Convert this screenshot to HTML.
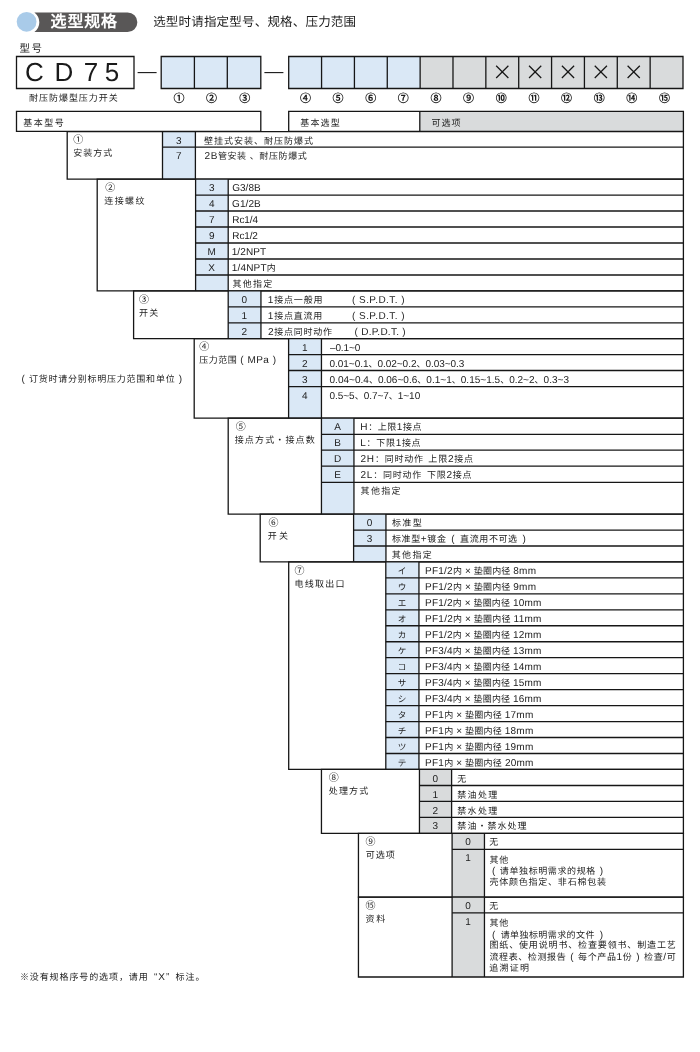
<!DOCTYPE html>
<html lang="zh-CN">
<head>
<meta charset="utf-8">
<title>选型规格 CD75</title>
<style>
html,body{margin:0;padding:0;background:#fff}
body{position:relative;width:700px;height:1052px;overflow:hidden;font-family:"Liberation Sans",sans-serif;color:#1c1c1c;text-rendering:geometricPrecision}
svg{position:absolute;left:0;top:0}
.tx{position:absolute;left:0;top:0;width:700px;height:1052px;will-change:transform}
svg path{stroke:#161616;fill:none}
.t{position:absolute;white-space:nowrap;font-size:9px;line-height:16px;letter-spacing:.7px}
.l{font-size:10px;line-height:0}
.c{text-align:center;letter-spacing:0}
.n{font-size:10px;letter-spacing:0}
.n2{font-size:11px;line-height:14px;letter-spacing:0;font-weight:bold}
.title{position:absolute;white-space:nowrap;font-size:16px;line-height:20px;font-weight:bold;color:#fff;letter-spacing:.6px}
.sub{position:absolute;white-space:nowrap;font-size:12.5px;line-height:16px;letter-spacing:-.4px}
.cd{position:absolute;white-space:nowrap;font-size:26px;line-height:32px;color:#1a1a1a}
</style>
</head>
<body>
<svg width="700" height="1052" viewBox="0 0 700 1052">
<path d="M34.4 12.5H127.6a9.75 9.75 0 0 1 0 19.5H34.4A12.1 12.1 0 0 0 34.4 12.5Z" style="fill:#595757;stroke:none"/>
<circle cx="26.6" cy="21.8" r="9.9" fill="#a9cbe9"/>
<g transform="translate(0.2 0.4)">
<path d="M16.30 56.10H133.80V88.10H16.30Z" stroke-width="1.3"/>
<path d="M137.40 72.20H156.40" stroke-width="1.1"/>
<path d="M264.20 72.20H283.20" stroke-width="1.1"/>
<rect x="161.00" y="56.10" width="99.60" height="32.00" fill="#dae8f6"/>
<path d="M161.00 56.10H260.60V88.10H161.00Z" stroke-width="1.3"/>
<path d="M194.20 56.10V88.10" stroke-width="1.3"/>
<path d="M227.10 56.10V88.10" stroke-width="1.3"/>
<rect x="288.50" y="56.10" width="131.43" height="32.00" fill="#dae8f6"/>
<rect x="419.93" y="56.10" width="262.87" height="32.00" fill="#d9dbdc"/>
<path d="M288.50 56.10H682.80V88.10H288.50Z" stroke-width="1.3"/>
<path d="M321.36 56.10V88.10" stroke-width="1.3"/>
<path d="M354.22 56.10V88.10" stroke-width="1.3"/>
<path d="M387.07 56.10V88.10" stroke-width="1.3"/>
<path d="M419.93 56.10V88.10" stroke-width="1.3"/>
<path d="M452.79 56.10V88.10" stroke-width="1.3"/>
<path d="M485.65 56.10V88.10" stroke-width="1.3"/>
<path d="M518.51 56.10V88.10" stroke-width="1.3"/>
<path d="M551.37 56.10V88.10" stroke-width="1.3"/>
<path d="M584.22 56.10V88.10" stroke-width="1.3"/>
<path d="M617.08 56.10V88.10" stroke-width="1.3"/>
<path d="M649.94 56.10V88.10" stroke-width="1.3"/>
<path d="M495.98 65.40L508.18 77.60M508.18 65.40L495.98 77.60" stroke-width="1.25" stroke="#1a1a1a"/>
<path d="M528.84 65.40L541.04 77.60M541.04 65.40L528.84 77.60" stroke-width="1.25" stroke="#1a1a1a"/>
<path d="M561.70 65.40L573.90 77.60M573.90 65.40L561.70 77.60" stroke-width="1.25" stroke="#1a1a1a"/>
<path d="M594.55 65.40L606.75 77.60M606.75 65.40L594.55 77.60" stroke-width="1.25" stroke="#1a1a1a"/>
<path d="M627.41 65.40L639.61 77.60M639.61 65.40L627.41 77.60" stroke-width="1.25" stroke="#1a1a1a"/>
<path d="M16.30 111.00H260.60V131.00H16.30Z" stroke-width="1.3"/>
<rect x="419.60" y="111.00" width="263.60" height="20.00" fill="#d9dbdc"/>
<path d="M288.50 111.00H683.20V131.00H288.50Z" stroke-width="1.3"/>
<path d="M419.60 111.00V131.00" stroke-width="1.3"/>
<rect x="162.30" y="131.20" width="32.90" height="47.50" fill="#dae8f6"/>
<path d="M67.00 131.20H683.20V178.70H67.00Z" stroke-width="1.3"/>
<path d="M162.30 131.20V178.70" stroke-width="1.3"/>
<path d="M195.20 131.20V178.70" stroke-width="1.3"/>
<path d="M162.30 146.80H683.20" stroke-width="1.3"/>
<rect x="195.40" y="178.70" width="32.60" height="111.80" fill="#dae8f6"/>
<path d="M97.00 178.70H683.20V290.50H97.00Z" stroke-width="1.3"/>
<path d="M195.40 178.70V290.50" stroke-width="1.3"/>
<path d="M228.00 178.70V290.50" stroke-width="1.3"/>
<path d="M195.40 194.70H683.20" stroke-width="1.3"/>
<path d="M195.40 210.60H683.20" stroke-width="1.3"/>
<path d="M195.40 226.60H683.20" stroke-width="1.3"/>
<path d="M195.40 242.60H683.20" stroke-width="1.3"/>
<path d="M195.40 258.60H683.20" stroke-width="1.3"/>
<path d="M195.40 274.60H683.20" stroke-width="1.3"/>
<rect x="228.00" y="290.50" width="32.75" height="47.75" fill="#dae8f6"/>
<path d="M133.40 290.50H683.20V338.25H133.40Z" stroke-width="1.3"/>
<path d="M228.00 290.50V338.25" stroke-width="1.3"/>
<path d="M260.75 290.50V338.25" stroke-width="1.3"/>
<path d="M228.00 306.40H683.20" stroke-width="1.3"/>
<path d="M228.00 322.40H683.20" stroke-width="1.3"/>
<rect x="288.40" y="338.25" width="32.85" height="79.55" fill="#dae8f6"/>
<path d="M194.00 338.25H683.20V417.80H194.00Z" stroke-width="1.3"/>
<path d="M288.40 338.25V417.80" stroke-width="1.3"/>
<path d="M321.25 338.25V417.80" stroke-width="1.3"/>
<path d="M288.40 354.25H683.20" stroke-width="1.3"/>
<path d="M288.40 370.10H683.20" stroke-width="1.3"/>
<path d="M288.40 386.20H683.20" stroke-width="1.3"/>
<rect x="321.25" y="417.80" width="32.50" height="95.90" fill="#dae8f6"/>
<path d="M228.00 417.80H683.20V513.70H228.00Z" stroke-width="1.3"/>
<path d="M321.25 417.80V513.70" stroke-width="1.3"/>
<path d="M353.75 417.80V513.70" stroke-width="1.3"/>
<path d="M321.25 433.90H683.20" stroke-width="1.3"/>
<path d="M321.25 449.80H683.20" stroke-width="1.3"/>
<path d="M321.25 465.80H683.20" stroke-width="1.3"/>
<path d="M321.25 481.90H683.20" stroke-width="1.3"/>
<rect x="353.40" y="513.70" width="32.35" height="47.80" fill="#dae8f6"/>
<path d="M260.00 513.70H683.20V561.50H260.00Z" stroke-width="1.3"/>
<path d="M353.40 513.70V561.50" stroke-width="1.3"/>
<path d="M385.75 513.70V561.50" stroke-width="1.3"/>
<path d="M353.40 529.70H683.20" stroke-width="1.3"/>
<path d="M353.40 545.60H683.20" stroke-width="1.3"/>
<rect x="385.60" y="561.50" width="33.15" height="207.55" fill="#dae8f6"/>
<path d="M288.50 561.50H683.20V769.05H288.50Z" stroke-width="1.3"/>
<path d="M385.60 561.50V769.05" stroke-width="1.3"/>
<path d="M418.75 561.50V769.05" stroke-width="1.3"/>
<path d="M385.60 577.47H683.20" stroke-width="1.3"/>
<path d="M385.60 593.43H683.20" stroke-width="1.3"/>
<path d="M385.60 609.40H683.20" stroke-width="1.3"/>
<path d="M385.60 625.36H683.20" stroke-width="1.3"/>
<path d="M385.60 641.33H683.20" stroke-width="1.3"/>
<path d="M385.60 657.29H683.20" stroke-width="1.3"/>
<path d="M385.60 673.26H683.20" stroke-width="1.3"/>
<path d="M385.60 689.22H683.20" stroke-width="1.3"/>
<path d="M385.60 705.19H683.20" stroke-width="1.3"/>
<path d="M385.60 721.15H683.20" stroke-width="1.3"/>
<path d="M385.60 737.12H683.20" stroke-width="1.3"/>
<path d="M385.60 753.08H683.20" stroke-width="1.3"/>
<rect x="419.25" y="769.05" width="32.15" height="63.85" fill="#d9dbdc"/>
<path d="M321.25 769.05H683.20V832.90H321.25Z" stroke-width="1.3"/>
<path d="M419.25 769.05V832.90" stroke-width="1.3"/>
<path d="M451.40 769.05V832.90" stroke-width="1.3"/>
<path d="M419.25 785.10H683.20" stroke-width="1.3"/>
<path d="M419.25 801.05H683.20" stroke-width="1.3"/>
<path d="M419.25 817.00H683.20" stroke-width="1.3"/>
<rect x="451.90" y="832.90" width="32.35" height="63.80" fill="#d9dbdc"/>
<path d="M358.25 832.90H683.20V896.70H358.25Z" stroke-width="1.3"/>
<path d="M451.90 832.90V896.70" stroke-width="1.3"/>
<path d="M484.25 832.90V896.70" stroke-width="1.3"/>
<path d="M451.90 848.95H683.20" stroke-width="1.3"/>
<rect x="451.90" y="896.70" width="32.35" height="79.90" fill="#d9dbdc"/>
<path d="M358.25 896.70H683.20V976.60H358.25Z" stroke-width="1.3"/>
<path d="M451.90 896.70V976.60" stroke-width="1.3"/>
<path d="M484.25 896.70V976.60" stroke-width="1.3"/>
<path d="M451.90 912.50H683.20" stroke-width="1.3"/>
</g>
</svg>
<div class="tx">
<div id="i0" class="t n" style="left:73.33px;top:133.20px;">①</div>
<div id="i1" class="t" style="left:73.27px;top:145.35px;letter-spacing:1.02px;">安装方式</div>
<div id="i2" class="t c" style="left:162.30px;top:132.65px;width:32.90px;"><span class="l">3</span></div>
<div id="i3" class="t" style="left:204.12px;top:132.65px;letter-spacing:0.98px;">壁挂式安装、耐压防爆式</div>
<div id="i4" class="t c" style="left:162.30px;top:148.25px;width:32.90px;"><span class="l">7</span></div>
<div id="i5" class="t" style="left:204.50px;top:148.25px;letter-spacing:0.59px;"><span class="l">2B</span>管安装 、耐压防爆式</div>
<div id="i6" class="t n" style="left:105.36px;top:180.70px;">②</div>
<div id="i7" class="t" style="left:104.26px;top:192.85px;letter-spacing:1.40px;">连接螺纹</div>
<div id="i8" class="t c" style="left:195.40px;top:180.15px;width:32.60px;"><span class="l">3</span></div>
<div id="i9" class="t" style="left:232.17px;top:180.15px;letter-spacing:0.05px;"><span class="l">G3/8B</span></div>
<div id="i10" class="t c" style="left:195.40px;top:196.15px;width:32.60px;"><span class="l">4</span></div>
<div id="i11" class="t" style="left:232.12px;top:196.15px;letter-spacing:0.06px;"><span class="l">G1/2B</span></div>
<div id="i12" class="t c" style="left:195.40px;top:212.05px;width:32.60px;"><span class="l">7</span></div>
<div id="i13" class="t" style="left:232.35px;top:212.05px;letter-spacing:-0.12px;"><span class="l">Rc1/4</span></div>
<div id="i14" class="t c" style="left:195.40px;top:228.05px;width:32.60px;"><span class="l">9</span></div>
<div id="i15" class="t" style="left:232.32px;top:228.05px;letter-spacing:-0.13px;"><span class="l">Rc1/2</span></div>
<div id="i16" class="t c" style="left:195.40px;top:244.05px;width:32.60px;"><span class="l">M</span></div>
<div id="i17" class="t" style="left:231.69px;top:244.05px;letter-spacing:0.12px;"><span class="l">1/2NPT</span></div>
<div id="i18" class="t c" style="left:195.40px;top:260.05px;width:32.60px;"><span class="l">X</span></div>
<div id="i19" class="t" style="left:231.71px;top:260.05px;letter-spacing:0.19px;"><span class="l">1/4NPT</span>内</div>
<div id="i20" class="t" style="left:232.57px;top:276.05px;letter-spacing:1.19px;">其他指定</div>
<div id="i21" class="t n" style="left:138.93px;top:292.50px;">③</div>
<div id="i22" class="t" style="left:139.03px;top:304.65px;letter-spacing:1.17px;">开关</div>
<div id="i23" class="t c" style="left:228.00px;top:291.95px;width:32.75px;"><span class="l">0</span></div>
<div id="i24" class="t" style="left:267.79px;top:291.95px;letter-spacing:0.82px;"><span class="l">1</span>接点一般用</div>
<div id="i25" class="t c" style="left:228.00px;top:307.85px;width:32.75px;"><span class="l">1</span></div>
<div id="i26" class="t" style="left:267.83px;top:307.85px;letter-spacing:0.77px;"><span class="l">1</span>接点直流用</div>
<div id="i27" class="t c" style="left:228.00px;top:323.85px;width:32.75px;"><span class="l">2</span></div>
<div id="i28" class="t" style="left:268.00px;top:323.85px;letter-spacing:0.74px;"><span class="l">2</span>接点同时动作</div>
<div id="i29" class="t n" style="left:199.28px;top:340.25px;">④</div>
<div id="i30" class="t" style="left:199.37px;top:352.40px;letter-spacing:0.44px;word-spacing:0.19px;">压力范围 <span class="l">( MPa )</span></div>
<div id="i31" class="t c" style="left:288.40px;top:339.70px;width:32.85px;"><span class="l">1</span></div>
<div id="i32" class="t" style="left:329.93px;top:339.70px;letter-spacing:-0.10px;"><span class="l">–0.1~0</span></div>
<div id="i33" class="t c" style="left:288.40px;top:355.70px;width:32.85px;"><span class="l">2</span></div>
<div id="i34" class="t" style="left:329.50px;top:355.70px;letter-spacing:-0.03px;"><span class="l">0.01~0.1</span>、<span class="l">0.02~0.2</span>、<span class="l">0.03~0.3</span></div>
<div id="i35" class="t c" style="left:288.40px;top:371.55px;width:32.85px;"><span class="l">3</span></div>
<div id="i36" class="t" style="left:329.50px;top:371.55px;letter-spacing:0.02px;"><span class="l">0.04~0.4</span>、<span class="l">0.06~0.6</span>、<span class="l">0.1~1</span>、<span class="l">0.15~1.5</span>、<span class="l">0.2~2</span>、<span class="l">0.3~3</span></div>
<div id="i37" class="t c" style="left:288.40px;top:387.65px;width:32.85px;"><span class="l">4</span></div>
<div id="i38" class="t" style="left:329.50px;top:387.65px;letter-spacing:-0.03px;"><span class="l">0.5~5</span>、<span class="l">0.7~7</span>、<span class="l">1~10</span></div>
<div id="i39" class="t n" style="left:235.87px;top:419.80px;">⑤</div>
<div id="i40" class="t" style="left:234.73px;top:431.95px;letter-spacing:1.14px;">接点方式・接点数</div>
<div id="i41" class="t c" style="left:321.25px;top:419.25px;width:32.50px;"><span class="l">A</span></div>
<div id="i42" class="t" style="left:360.35px;top:419.25px;letter-spacing:0.56px;"><span class="l">H</span>：上限<span class="l">1</span>接点</div>
<div id="i43" class="t c" style="left:321.25px;top:435.35px;width:32.50px;"><span class="l">B</span></div>
<div id="i44" class="t" style="left:360.35px;top:435.35px;letter-spacing:0.68px;"><span class="l">L</span>：下限<span class="l">1</span>接点</div>
<div id="i45" class="t c" style="left:321.25px;top:451.25px;width:32.50px;"><span class="l">D</span></div>
<div id="i46" class="t" style="left:360.50px;top:451.25px;letter-spacing:0.79px;word-spacing:1.22px;"><span class="l">2H</span>：同时动作 上限<span class="l">2</span>接点</div>
<div id="i47" class="t c" style="left:321.25px;top:467.25px;width:32.50px;"><span class="l">E</span></div>
<div id="i48" class="t" style="left:360.50px;top:467.25px;letter-spacing:0.77px;word-spacing:1.59px;"><span class="l">2L</span>：同时动作 下限<span class="l">2</span>接点</div>
<div id="i49" class="t" style="left:360.58px;top:483.35px;letter-spacing:1.33px;">其他指定</div>
<div id="i50" class="t n" style="left:268.38px;top:515.70px;">⑥</div>
<div id="i51" class="t" style="left:267.86px;top:527.85px;letter-spacing:2.09px;">开关</div>
<div id="i52" class="t c" style="left:353.40px;top:515.15px;width:32.35px;"><span class="l">0</span></div>
<div id="i53" class="t" style="left:392.05px;top:515.15px;letter-spacing:1.31px;">标准型</div>
<div id="i54" class="t c" style="left:353.40px;top:531.15px;width:32.35px;"><span class="l">3</span></div>
<div id="i55" class="t" style="left:392.02px;top:531.15px;letter-spacing:0.60px;word-spacing:1.73px;">标准型<span class="l">+</span>镀金 <span class="l">(</span> 直流用不可选 <span class="l">)</span></div>
<div id="i56" class="t" style="left:391.80px;top:547.05px;letter-spacing:1.32px;">其他指定</div>
<div id="i57" class="t n" style="left:294.40px;top:563.50px;">⑦</div>
<div id="i58" class="t" style="left:294.60px;top:575.65px;letter-spacing:1.24px;">电线取出口</div>
<div id="i59" class="t c" style="left:385.60px;top:562.95px;width:33.15px;font-size:8.6px;">イ</div>
<div id="i60" class="t" style="left:425.11px;top:562.95px;letter-spacing:0.22px;word-spacing:0.03px;"><span class="l">PF1/2</span>内 <span class="l">×</span> 垫圈内径 <span class="l">8mm</span></div>
<div id="i61" class="t c" style="left:385.60px;top:578.92px;width:33.15px;font-size:8.6px;">ウ</div>
<div id="i62" class="t" style="left:425.11px;top:578.92px;letter-spacing:0.22px;word-spacing:0.03px;"><span class="l">PF1/2</span>内 <span class="l">×</span> 垫圈内径 <span class="l">9mm</span></div>
<div id="i63" class="t c" style="left:385.60px;top:594.88px;width:33.15px;font-size:8.6px;">エ</div>
<div id="i64" class="t" style="left:425.11px;top:594.88px;letter-spacing:0.20px;word-spacing:0.00px;"><span class="l">PF1/2</span>内 <span class="l">×</span> 垫圈内径 <span class="l">10mm</span></div>
<div id="i65" class="t c" style="left:385.60px;top:610.85px;width:33.15px;font-size:8.6px;">オ</div>
<div id="i66" class="t" style="left:425.08px;top:610.85px;letter-spacing:0.24px;word-spacing:0.03px;"><span class="l">PF1/2</span>内 <span class="l">×</span> 垫圈内径 <span class="l">11mm</span></div>
<div id="i67" class="t c" style="left:385.60px;top:626.81px;width:33.15px;font-size:8.6px;">カ</div>
<div id="i68" class="t" style="left:425.11px;top:626.81px;letter-spacing:0.20px;word-spacing:0.00px;"><span class="l">PF1/2</span>内 <span class="l">×</span> 垫圈内径 <span class="l">12mm</span></div>
<div id="i69" class="t c" style="left:385.60px;top:642.78px;width:33.15px;font-size:8.6px;">ケ</div>
<div id="i70" class="t" style="left:425.08px;top:642.78px;letter-spacing:0.20px;word-spacing:0.04px;"><span class="l">PF3/4</span>内 <span class="l">×</span> 垫圈内径 <span class="l">13mm</span></div>
<div id="i71" class="t c" style="left:385.60px;top:658.74px;width:33.15px;font-size:8.6px;">コ</div>
<div id="i72" class="t" style="left:425.08px;top:658.74px;letter-spacing:0.20px;word-spacing:0.04px;"><span class="l">PF3/4</span>内 <span class="l">×</span> 垫圈内径 <span class="l">14mm</span></div>
<div id="i73" class="t c" style="left:385.60px;top:674.71px;width:33.15px;font-size:8.6px;">サ</div>
<div id="i74" class="t" style="left:425.08px;top:674.71px;letter-spacing:0.20px;word-spacing:0.04px;"><span class="l">PF3/4</span>内 <span class="l">×</span> 垫圈内径 <span class="l">15mm</span></div>
<div id="i75" class="t c" style="left:385.60px;top:690.67px;width:33.15px;font-size:8.6px;">シ</div>
<div id="i76" class="t" style="left:425.08px;top:690.67px;letter-spacing:0.20px;word-spacing:0.04px;"><span class="l">PF3/4</span>内 <span class="l">×</span> 垫圈内径 <span class="l">16mm</span></div>
<div id="i77" class="t c" style="left:385.60px;top:706.64px;width:33.15px;font-size:8.6px;">タ</div>
<div id="i78" class="t" style="left:425.08px;top:706.64px;letter-spacing:0.24px;word-spacing:0.03px;"><span class="l">PF1</span>内 <span class="l">×</span> 垫圈内径 <span class="l">17mm</span></div>
<div id="i79" class="t c" style="left:385.60px;top:722.60px;width:33.15px;font-size:8.6px;">チ</div>
<div id="i80" class="t" style="left:425.08px;top:722.60px;letter-spacing:0.24px;word-spacing:0.03px;"><span class="l">PF1</span>内 <span class="l">×</span> 垫圈内径 <span class="l">18mm</span></div>
<div id="i81" class="t c" style="left:385.60px;top:738.57px;width:33.15px;font-size:8.6px;">ツ</div>
<div id="i82" class="t" style="left:425.08px;top:738.57px;letter-spacing:0.24px;word-spacing:0.03px;"><span class="l">PF1</span>内 <span class="l">×</span> 垫圈内径 <span class="l">19mm</span></div>
<div id="i83" class="t c" style="left:385.60px;top:754.53px;width:33.15px;font-size:8.6px;">テ</div>
<div id="i84" class="t" style="left:425.08px;top:754.53px;letter-spacing:0.24px;word-spacing:0.08px;"><span class="l">PF1</span>内 <span class="l">×</span> 垫圈内径 <span class="l">20mm</span></div>
<div id="i85" class="t n" style="left:328.70px;top:771.05px;">⑧</div>
<div id="i86" class="t" style="left:328.71px;top:783.20px;letter-spacing:1.19px;">处理方式</div>
<div id="i87" class="t c" style="left:419.25px;top:770.50px;width:32.15px;"><span class="l">0</span></div>
<div id="i88" class="t" style="left:457.37px;top:770.50px;">无</div>
<div id="i89" class="t c" style="left:419.25px;top:786.55px;width:32.15px;"><span class="l">1</span></div>
<div id="i90" class="t" style="left:457.35px;top:786.55px;letter-spacing:1.27px;">禁油处理</div>
<div id="i91" class="t c" style="left:419.25px;top:802.50px;width:32.15px;"><span class="l">2</span></div>
<div id="i92" class="t" style="left:457.35px;top:802.50px;letter-spacing:1.27px;">禁水处理</div>
<div id="i93" class="t c" style="left:419.25px;top:818.45px;width:32.15px;"><span class="l">3</span></div>
<div id="i94" class="t" style="left:457.35px;top:818.45px;letter-spacing:1.04px;">禁油・禁水处理</div>
<div id="i95" class="t n" style="left:365.54px;top:834.90px;">⑨</div>
<div id="i96" class="t" style="left:365.87px;top:847.05px;letter-spacing:0.96px;">可选项</div>
<div id="i97" class="t c" style="left:451.90px;top:834.35px;width:32.35px;"><span class="l">0</span></div>
<div id="i98" class="t" style="left:489.30px;top:834.35px;">无</div>
<div id="i99" class="t c" style="left:451.90px;top:850.40px;width:32.35px;"><span class="l">1</span></div>
<div id="i100" class="t" style="left:489.51px;top:851.50px;letter-spacing:0.72px;">其他</div>
<div id="i101" class="t" style="left:491.94px;top:863.00px;letter-spacing:0.60px;word-spacing:0.87px;"><span class="l">(</span> 请单独标明需求的规格 <span class="l">)</span></div>
<div id="i102" class="t" style="left:489.48px;top:874.10px;letter-spacing:0.77px;">壳体颜色指定、非石棉包装</div>
<div id="i103" class="t n" style="left:365.48px;top:898.70px;">⑮</div>
<div id="i104" class="t" style="left:365.54px;top:910.85px;letter-spacing:1.82px;">资料</div>
<div id="i105" class="t c" style="left:451.90px;top:898.15px;width:32.35px;"><span class="l">0</span></div>
<div id="i106" class="t" style="left:489.30px;top:898.15px;">无</div>
<div id="i107" class="t c" style="left:451.90px;top:913.95px;width:32.35px;"><span class="l">1</span></div>
<div id="i108" class="t" style="left:489.51px;top:914.85px;letter-spacing:0.72px;">其他</div>
<div id="i109" class="t" style="left:492.03px;top:926.55px;letter-spacing:0.41px;word-spacing:2.02px;"><span class="l">(</span> 请单独标明需求的文件 <span class="l">)</span></div>
<div id="i110" class="t" style="left:489.48px;top:937.45px;letter-spacing:0.85px;">图纸、使用说明书、检查要领书、制造工艺</div>
<div id="i111" class="t" style="left:489.44px;top:948.65px;letter-spacing:0.60px;word-spacing:0.85px;">流程表、检测报告 <span class="l">(</span> 每个产品<span class="l">1</span>份 <span class="l">)</span> 检查<span class="l">/</span>可</div>
<div id="i112" class="t" style="left:489.31px;top:959.95px;letter-spacing:1.22px;">追溯证明</div>
<div id="i113" class="t" style="left:352.02px;top:291.95px;letter-spacing:0.44px;word-spacing:0.03px;"><span class="l">( S.P.D.T. )</span></div>
<div id="i114" class="t" style="left:352.02px;top:307.85px;letter-spacing:0.44px;word-spacing:0.03px;"><span class="l">( S.P.D.T. )</span></div>
<div id="i115" class="t" style="left:354.55px;top:323.85px;letter-spacing:0.25px;word-spacing:0.07px;"><span class="l">( D.P.D.T. )</span></div>
<div id="i116" class="title" style="left:50.61px;top:13.00px;letter-spacing:0.82px;">选型规格</div>
<div id="i117" class="sub" style="left:153.18px;top:13.60px;letter-spacing:0.19px;">选型时请指定型号、规格、压力范围</div>
<div id="i118" class="t" style="left:19.50px;top:41.35px;letter-spacing:1.54px;font-size:10.5px;">型号</div>
<div id="i119" class="cd" style="left:25.00px;top:56.00px;"><span style="letter-spacing:10.6px">C</span><span style="letter-spacing:10.6px">D</span><span style="letter-spacing:6.4px">7</span>5</div>
<div id="i120" class="t" style="left:29.10px;top:90.45px;letter-spacing:0.95px;">耐压防爆型压力开关</div>
<div id="i121" class="t c n2" style="left:169.00px;top:92.20px;width:20.00px;">①</div>
<div id="i122" class="t c n2" style="left:201.60px;top:92.20px;width:20.00px;">②</div>
<div id="i123" class="t c n2" style="left:234.80px;top:92.20px;width:20.00px;">③</div>
<div id="i124" class="t c n2" style="left:295.40px;top:92.20px;width:20.00px;">④</div>
<div id="i125" class="t c n2" style="left:328.04px;top:92.20px;width:20.00px;">⑤</div>
<div id="i126" class="t c n2" style="left:360.68px;top:92.20px;width:20.00px;">⑥</div>
<div id="i127" class="t c n2" style="left:393.32px;top:92.20px;width:20.00px;">⑦</div>
<div id="i128" class="t c n2" style="left:425.96px;top:92.20px;width:20.00px;">⑧</div>
<div id="i129" class="t c n2" style="left:458.60px;top:92.20px;width:20.00px;">⑨</div>
<div id="i130" class="t c n2" style="left:491.24px;top:92.20px;width:20.00px;">⑩</div>
<div id="i131" class="t c n2" style="left:523.88px;top:92.20px;width:20.00px;">⑪</div>
<div id="i132" class="t c n2" style="left:556.52px;top:92.20px;width:20.00px;">⑫</div>
<div id="i133" class="t c n2" style="left:589.16px;top:92.20px;width:20.00px;">⑬</div>
<div id="i134" class="t c n2" style="left:621.80px;top:92.20px;width:20.00px;">⑭</div>
<div id="i135" class="t c n2" style="left:654.44px;top:92.20px;width:20.00px;">⑮</div>
<div id="i136" class="t" style="left:23.28px;top:115.65px;letter-spacing:1.46px;line-height:14px;">基本型号</div>
<div id="i137" class="t" style="left:300.29px;top:115.65px;letter-spacing:1.16px;line-height:14px;">基本选型</div>
<div id="i138" class="t" style="left:431.53px;top:115.75px;letter-spacing:1.04px;line-height:14px;">可选项</div>
<div id="i139" class="t" style="left:21.50px;top:370.75px;letter-spacing:0.77px;"><span class="l">(</span> 订货时请分别标明压力范围和单位 <span class="l">)</span></div>
<div id="i140" class="t" style="left:19.93px;top:968.85px;letter-spacing:0.90px;word-spacing:2.08px;">※没有规格序号的选项，请用 <span class="l">“X”</span> 标注。</div>
</div>
</body>
</html>
